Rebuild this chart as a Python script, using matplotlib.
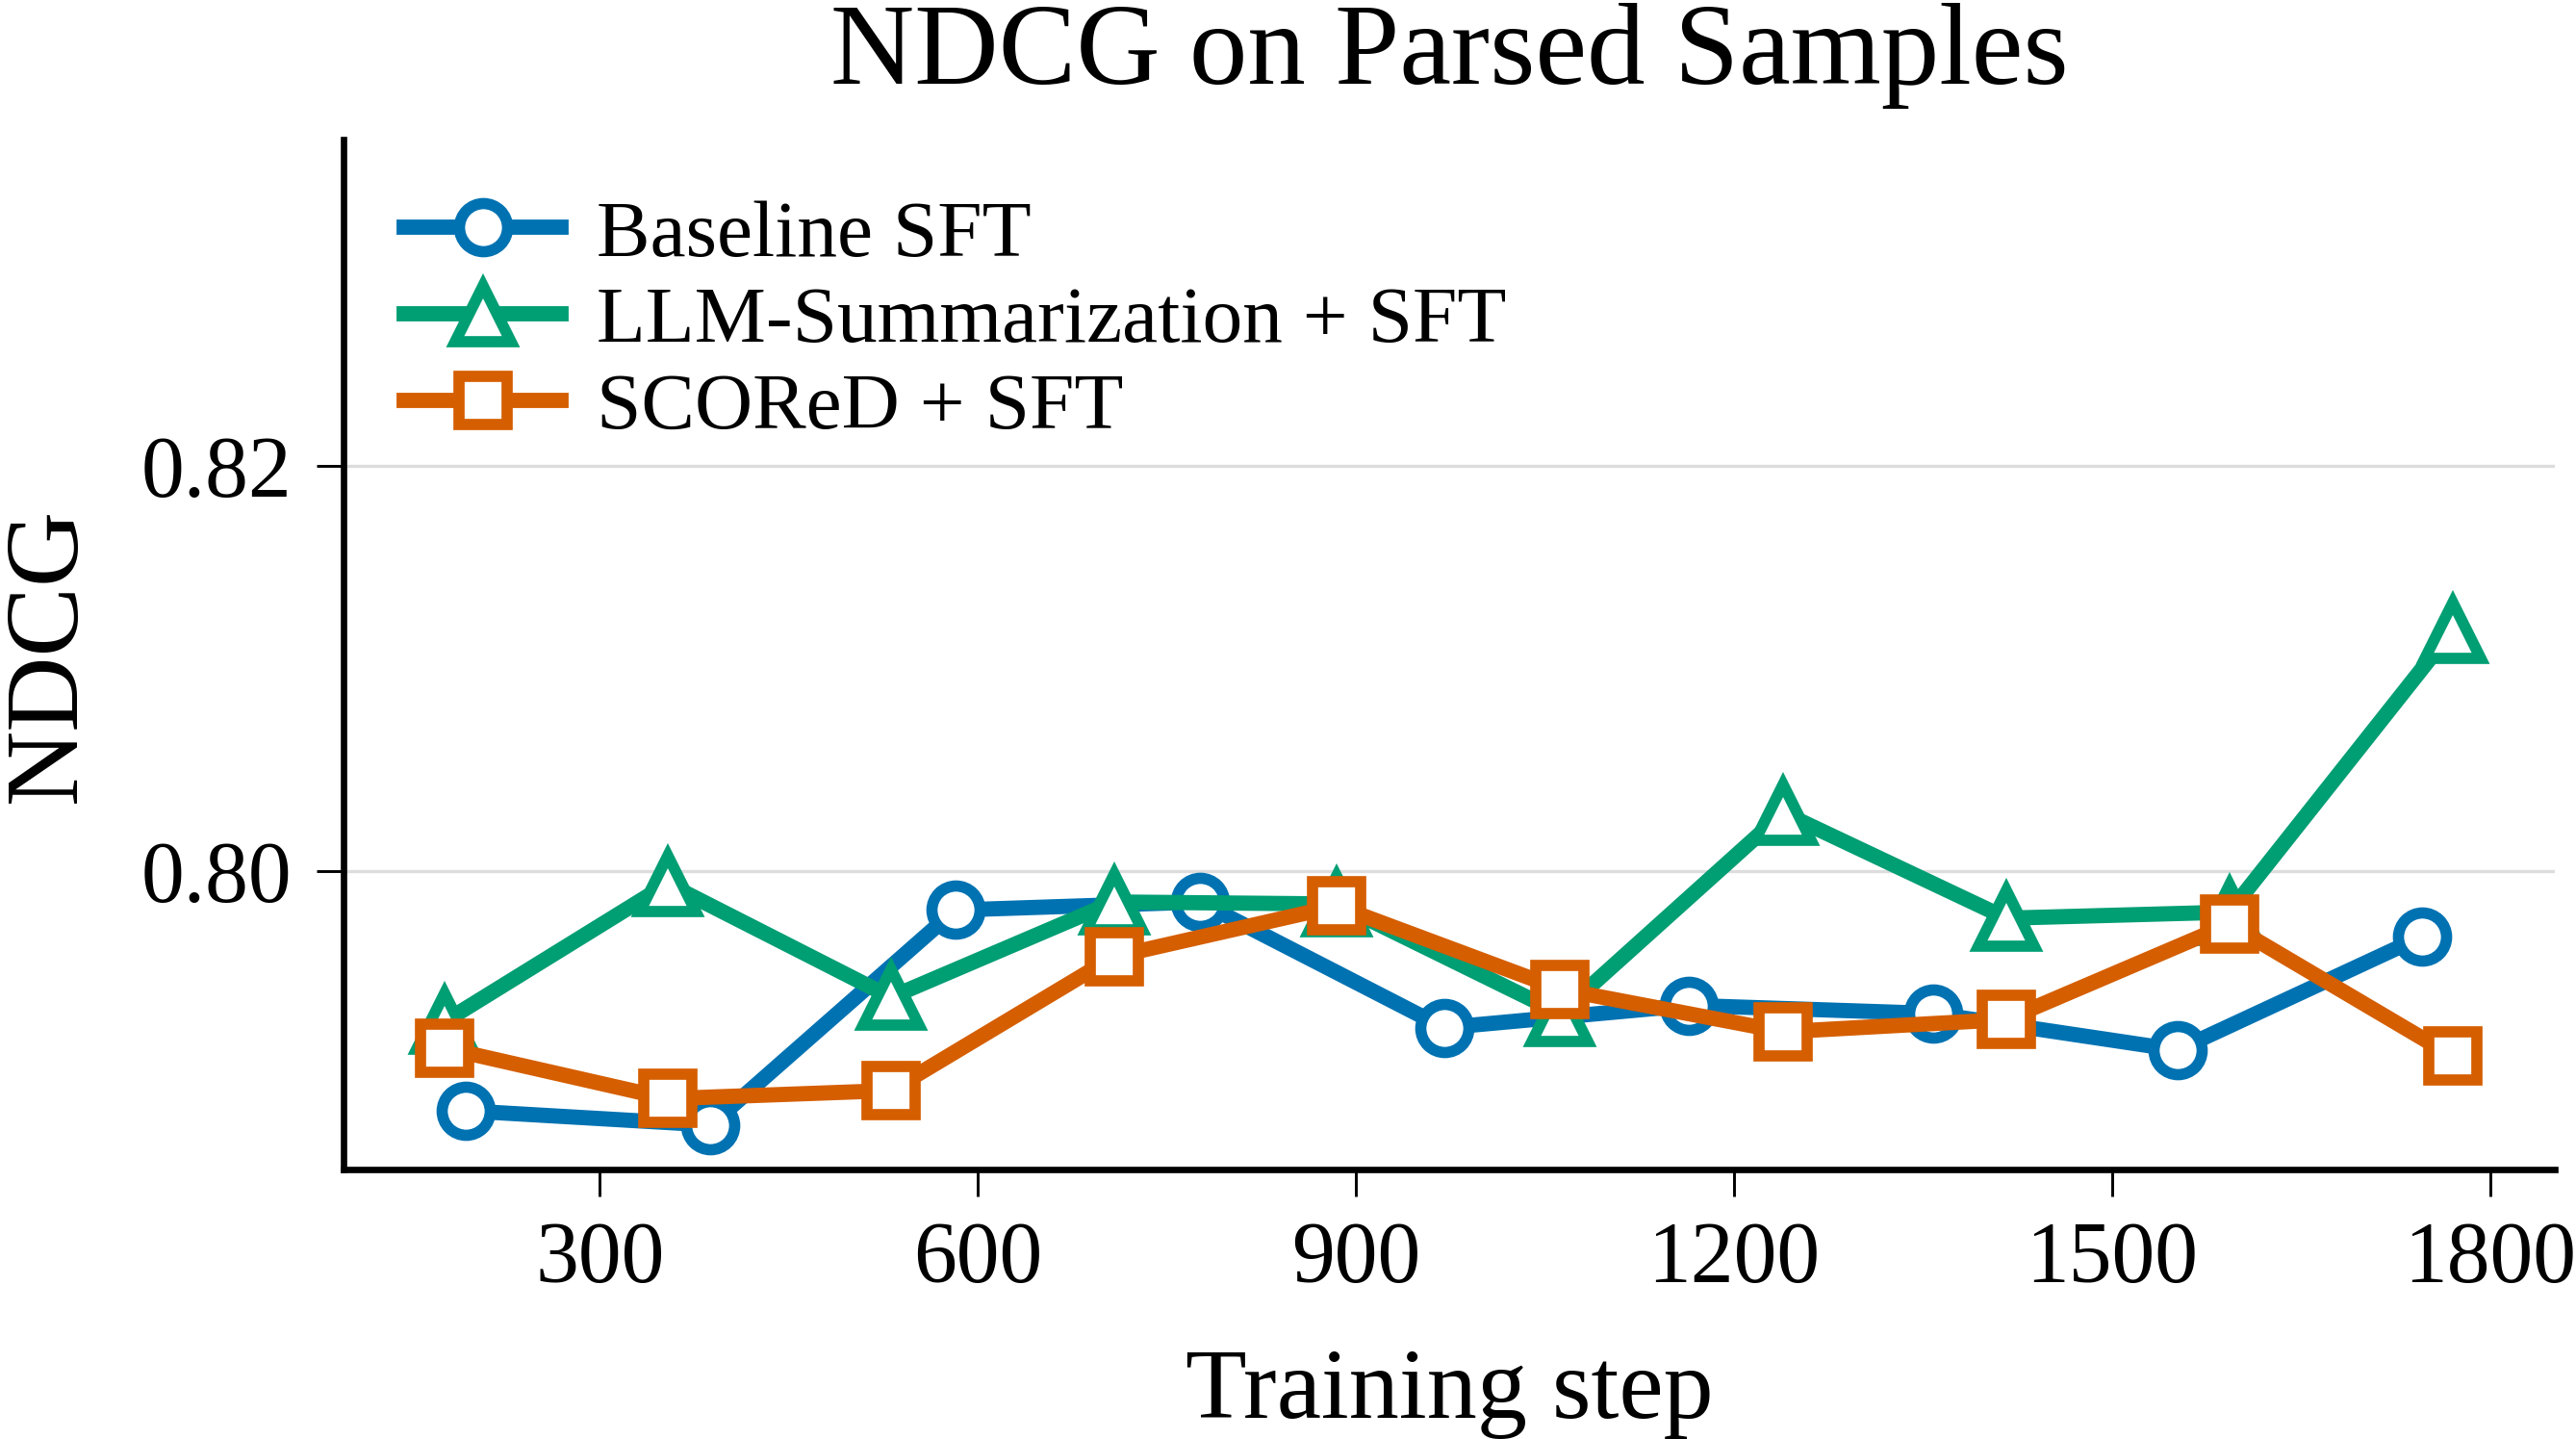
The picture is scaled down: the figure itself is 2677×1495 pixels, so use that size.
import matplotlib
matplotlib.use("Agg")
import matplotlib.pyplot as plt

# Data
baseline_steps = [194, 388, 582, 776, 970, 1164, 1358, 1552, 1746]
baseline_ndcg = [0.7882, 0.7875, 0.7981, 0.7985, 0.7923, 0.7934, 0.7930, 0.7912, 0.7968]

llm_steps = [177, 354, 531, 708, 885, 1062, 1239, 1416, 1593, 1770]
llm_ndcg = [0.7926, 0.7994, 0.7938, 0.7985, 0.7984, 0.7930, 0.8029, 0.7977, 0.7980, 0.8119]

scored_steps = [177, 354, 531, 708, 885, 1062, 1239, 1416, 1593, 1770]
scored_ndcg = [0.7913, 0.7888, 0.7892, 0.7958, 0.7983, 0.7942, 0.7921, 0.7927, 0.7974, 0.7909]

x_ticks = [300, 600, 900, 1200, 1500, 1800]
y_ticks = [0.80, 0.82]
y_tick_labels = ["0.80", "0.82"]

plt.rcParams['font.family'] = ['Liberation Serif', 'DejaVu Serif']
plt.rcParams['mathtext.fontset'] = 'stix'

fig = plt.figure(figsize=(2677/300, 1495/300), dpi=300)
ax = fig.add_axes([0.1333, 0.1872, 0.9917-0.1333, 0.903-0.1872])

lw = 3.8
ms = 12
mew = 2.8
ax.plot(baseline_steps, baseline_ndcg, color='#0072B2', lw=lw, marker='o', ms=ms,
        mew=mew, mfc='white', label='Baseline SFT', zorder=3)
ax.plot(llm_steps, llm_ndcg, color='#009E73', lw=lw, marker='^', ms=ms+2,
        mew=mew, mfc='white', label='LLM-Summarization + SFT', zorder=3)
ax.plot(scored_steps, scored_ndcg, color='#D55E00', lw=lw, marker='s', ms=ms,
        mew=mew, mfc='white', label='SCOReD + SFT', zorder=3)

ax.set_xlim(96.7, 1851)
ax.set_ylim(0.7853, 0.8361)
ax.set_xticks(x_ticks)
ax.set_yticks(y_ticks)
ax.set_yticklabels(y_tick_labels)
ax.grid(axis='y', color='#dddddd', lw=0.8, zorder=0)
ax.set_axisbelow(True)

for s in ['top', 'right']:
    ax.spines[s].set_visible(False)
for s in ['left', 'bottom']:
    ax.spines[s].set_linewidth(1.6)

ax.tick_params(axis='both', labelsize=21.5, length=6.8, width=0.7, direction='out', pad=6)

ax.set_xlabel('Training step', fontsize=25, labelpad=12)
ax.set_ylabel('NDCG', fontsize=26, labelpad=11)
ax.set_title('NDCG on Parsed Samples', fontsize=29, pad=14)

leg = ax.legend(loc='upper left', bbox_to_anchor=(-0.005, 1.012), fontsize=20, frameon=False,
                handlelength=1.95, handletextpad=0.45, labelspacing=0.16, borderaxespad=0.5)

fig.savefig('out.png', dpi=300)
